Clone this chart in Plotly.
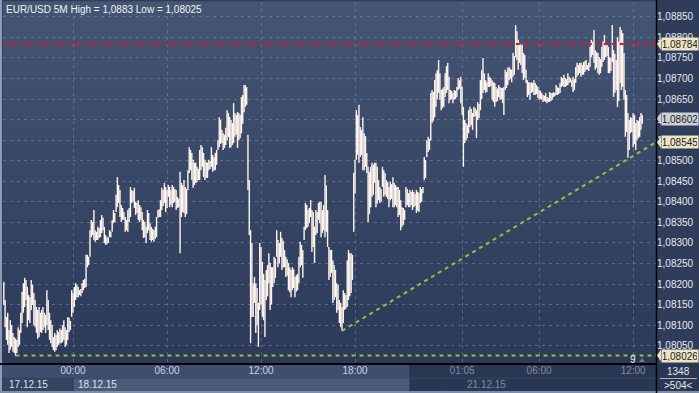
import plotly.graph_objects as go

# ---------------- data ----------------
HIGH = [
    1.08205, 1.08161, 1.08120, 1.08130, 1.08088, 1.08112, 1.08100, 1.08081, 1.08071, 1.08067,
    1.08064, 1.08095, 1.08088, 1.08130, 1.08181, 1.08202, 1.08215, 1.08210, 1.08193, 1.08173,
    1.08168, 1.08210, 1.08198, 1.08178, 1.08161, 1.08144, 1.08137, 1.08144, 1.08130, 1.08137,
    1.08144, 1.08130, 1.08125, 1.08185, 1.08161, 1.08130, 1.08112, 1.08100, 1.08071, 1.08081,
    1.08076, 1.08088, 1.08083, 1.08092, 1.08088, 1.08100, 1.08112, 1.08095, 1.08088, 1.08120,
    1.08118, 1.08110, 1.08185, 1.08178, 1.08193, 1.08202, 1.08198, 1.08193, 1.08185, 1.08188,
    1.08202, 1.08210, 1.08212, 1.08271, 1.08271, 1.08266, 1.08331, 1.08356, 1.08351, 1.08380,
    1.08331, 1.08327, 1.08339, 1.08336, 1.08356, 1.08368, 1.08361, 1.08339, 1.08319, 1.08314,
    1.08314, 1.08331, 1.08327, 1.08356, 1.08380, 1.08373, 1.08417, 1.08460, 1.08441, 1.08429,
    1.08392, 1.08385, 1.08375, 1.08363, 1.08356, 1.08380, 1.08385, 1.08436, 1.08429, 1.08426,
    1.08434, 1.08400, 1.08397, 1.08404, 1.08392, 1.08387, 1.08375, 1.08356, 1.08351, 1.08339,
    1.08380, 1.08373, 1.08348, 1.08339, 1.08334, 1.08331, 1.08339, 1.08363, 1.08380, 1.08382,
    1.08404, 1.08434, 1.08429, 1.08446, 1.08436, 1.08429, 1.08441, 1.08436, 1.08429, 1.08441,
    1.08436, 1.08431, 1.08429, 1.08412, 1.08407, 1.08473, 1.08446, 1.08440, 1.08453, 1.08436,
    1.08431, 1.08477, 1.08533, 1.08526, 1.08519, 1.08502, 1.08495, 1.08495, 1.08485, 1.08480,
    1.08526, 1.08538, 1.08533, 1.08519, 1.08502, 1.08497, 1.08495, 1.08502, 1.08499, 1.08533,
    1.08514, 1.08509, 1.08519, 1.08526, 1.08550, 1.08606, 1.08599, 1.08575, 1.08567, 1.08563,
    1.08580, 1.08623, 1.08616, 1.08606, 1.08599, 1.08592, 1.08640, 1.08616, 1.08611, 1.08618,
    1.08616, 1.08611, 1.08655, 1.08660, 1.08684, 1.08684, 1.08679, 1.08563, 1.08453, 1.08331,
    1.08300, 1.08202, 1.08217, 1.08202, 1.08190, 1.08154, 1.08300, 1.08290, 1.08254, 1.08225,
    1.08210, 1.08234, 1.08246, 1.08275, 1.08251, 1.08241, 1.08241, 1.08266, 1.08262, 1.08331,
    1.08307, 1.08300, 1.08327, 1.08312, 1.08305, 1.08283, 1.08266, 1.08260, 1.08251, 1.08240,
    1.08234, 1.08241, 1.08236, 1.08217, 1.08222, 1.08225, 1.08266, 1.08303, 1.08295, 1.08283,
    1.08339, 1.08397, 1.08392, 1.08380, 1.08385, 1.08404, 1.08380, 1.08375, 1.08339, 1.08380,
    1.08375, 1.08397, 1.08400, 1.08400, 1.08380, 1.08392, 1.08465, 1.08440, 1.08380, 1.08290,
    1.08283, 1.08283, 1.08258, 1.08246, 1.08234, 1.08202, 1.08198, 1.08161, 1.08154, 1.08144,
    1.08185, 1.08178, 1.08173, 1.08258, 1.08283, 1.08275, 1.08275, 1.08271, 1.08470, 1.08502,
    1.08623, 1.08611, 1.08636, 1.08582, 1.08575, 1.08606, 1.08567, 1.08560, 1.08519, 1.08485,
    1.08473, 1.08485, 1.08495, 1.08490, 1.08495, 1.08495, 1.08485, 1.08453, 1.08436, 1.08431,
    1.08485, 1.08477, 1.08470, 1.08453, 1.08448, 1.08436, 1.08448, 1.08443, 1.08460, 1.08446,
    1.08441, 1.08436, 1.08436, 1.08429, 1.08404, 1.08387, 1.08385, 1.08380, 1.08436, 1.08431,
    1.08421, 1.08429, 1.08424, 1.08429, 1.08424, 1.08419, 1.08429, 1.08424, 1.08421, 1.08436,
    1.08431, 1.08436, 1.08509, 1.08502, 1.08550, 1.08558, 1.08553, 1.08665, 1.08672, 1.08667,
    1.08696, 1.08713, 1.08720, 1.08745, 1.08713, 1.08672, 1.08675, 1.08679, 1.08713, 1.08730,
    1.08738, 1.08704, 1.08672, 1.08670, 1.08665, 1.08672, 1.08670, 1.08679, 1.08701, 1.08696,
    1.08704, 1.08680, 1.08631, 1.08599, 1.08592, 1.08587, 1.08623, 1.08631, 1.08626, 1.08616,
    1.08631, 1.08628, 1.08623, 1.08643, 1.08638, 1.08696, 1.08720, 1.08750, 1.08713, 1.08696,
    1.08691, 1.08713, 1.08704, 1.08701, 1.08696, 1.08691, 1.08689, 1.08679, 1.08675, 1.08684,
    1.08679, 1.08677, 1.08677, 1.08679, 1.08721, 1.08716, 1.08726, 1.08728, 1.08723, 1.08721,
    1.08762, 1.08755, 1.08830, 1.08815, 1.08794, 1.08786, 1.08782, 1.08782, 1.08762, 1.08757,
    1.08721, 1.08696, 1.08691, 1.08689, 1.08691, 1.08689, 1.08696, 1.08689, 1.08684, 1.08679,
    1.08672, 1.08670, 1.08665, 1.08660, 1.08658, 1.08665, 1.08655, 1.08653, 1.08667, 1.08665,
    1.08665, 1.08667, 1.08665, 1.08684, 1.08679, 1.08677, 1.08689, 1.08704, 1.08701, 1.08709,
    1.08701, 1.08699, 1.08713, 1.08704, 1.08701, 1.08696, 1.08704, 1.08699, 1.08728, 1.08738,
    1.08733, 1.08738, 1.08738, 1.08733, 1.08740, 1.08742, 1.08745, 1.08733, 1.08738, 1.08777,
    1.08794, 1.08789, 1.08818, 1.08769, 1.08764, 1.08762, 1.08752, 1.08747, 1.08777, 1.08790,
    1.08806, 1.08786, 1.08782, 1.08777, 1.08752, 1.08750, 1.08830, 1.08769, 1.08760, 1.08745,
    1.08801, 1.08790, 1.08825, 1.08818, 1.08810, 1.08762, 1.08672, 1.08660, 1.08616, 1.08599,
    1.08606, 1.08604, 1.08616, 1.08611, 1.08592, 1.08599, 1.08597, 1.08606, 1.08616, 1.08611,
]
LOW = [
    1.08149, 1.08095, 1.08064, 1.08052, 1.08032, 1.08040, 1.08047, 1.08035, 1.08032, 1.08025,
    1.08032, 1.08047, 1.08052, 1.08081, 1.08105, 1.08130, 1.08144, 1.08161, 1.08095, 1.08112,
    1.08105, 1.08137, 1.08149, 1.08100, 1.08095, 1.08081, 1.08067, 1.08071, 1.08083, 1.08081,
    1.08088, 1.08095, 1.08081, 1.08100, 1.08088, 1.08064, 1.08056, 1.08047, 1.08039, 1.08035,
    1.08039, 1.08047, 1.08052, 1.08056, 1.08056, 1.08059, 1.08064, 1.08047, 1.08052, 1.08064,
    1.08083, 1.08088, 1.08120, 1.08130, 1.08144, 1.08161, 1.08168, 1.08168, 1.08173, 1.08170,
    1.08178, 1.08185, 1.08190, 1.08193, 1.08241, 1.08246, 1.08266, 1.08314, 1.08319, 1.08307,
    1.08303, 1.08307, 1.08307, 1.08312, 1.08314, 1.08324, 1.08331, 1.08300, 1.08295, 1.08297,
    1.08300, 1.08314, 1.08314, 1.08327, 1.08348, 1.08351, 1.08375, 1.08387, 1.08397, 1.08363,
    1.08351, 1.08356, 1.08356, 1.08327, 1.08331, 1.08327, 1.08351, 1.08363, 1.08397, 1.08400,
    1.08385, 1.08368, 1.08373, 1.08356, 1.08351, 1.08356, 1.08331, 1.08312, 1.08314, 1.08300,
    1.08324, 1.08331, 1.08307, 1.08303, 1.08307, 1.08303, 1.08310, 1.08314, 1.08361, 1.08363,
    1.08363, 1.08380, 1.08390, 1.08397, 1.08375, 1.08385, 1.08412, 1.08387, 1.08392, 1.08387,
    1.08397, 1.08400, 1.08380, 1.08385, 1.08387, 1.08275, 1.08363, 1.08375, 1.08373, 1.08363,
    1.08370, 1.08429, 1.08470, 1.08477, 1.08453, 1.08434, 1.08441, 1.08446, 1.08448, 1.08453,
    1.08453, 1.08477, 1.08485, 1.08460, 1.08453, 1.08458, 1.08458, 1.08477, 1.08480, 1.08485,
    1.08473, 1.08477, 1.08477, 1.08490, 1.08526, 1.08533, 1.08541, 1.08543, 1.08526, 1.08531,
    1.08538, 1.08550, 1.08558, 1.08531, 1.08533, 1.08538, 1.08543, 1.08558, 1.08563, 1.08531,
    1.08550, 1.08555, 1.08567, 1.08590, 1.08618, 1.08631, 1.08636, 1.08429, 1.08319, 1.08056,
    1.08120, 1.08120, 1.08154, 1.08081, 1.08100, 1.08047, 1.08137, 1.08150, 1.08120, 1.08112,
    1.08071, 1.08161, 1.08170, 1.08202, 1.08137, 1.08150, 1.08193, 1.08202, 1.08215, 1.08266,
    1.08241, 1.08250, 1.08266, 1.08234, 1.08240, 1.08241, 1.08217, 1.08220, 1.08185, 1.08180,
    1.08168, 1.08185, 1.08190, 1.08168, 1.08181, 1.08185, 1.08202, 1.08241, 1.08246, 1.08215,
    1.08307, 1.08331, 1.08336, 1.08339, 1.08348, 1.08363, 1.08278, 1.08290, 1.08251, 1.08319,
    1.08324, 1.08356, 1.08348, 1.08314, 1.08324, 1.08331, 1.08314, 1.08327, 1.08290, 1.08210,
    1.08217, 1.08227, 1.08154, 1.08161, 1.08168, 1.08130, 1.08137, 1.08105, 1.08095, 1.08086,
    1.08105, 1.08137, 1.08140, 1.08144, 1.08161, 1.08170, 1.08178, 1.08210, 1.08327, 1.08421,
    1.08502, 1.08514, 1.08495, 1.08509, 1.08514, 1.08477, 1.08477, 1.08485, 1.08470, 1.08351,
    1.08370, 1.08387, 1.08412, 1.08417, 1.08446, 1.08387, 1.08395, 1.08404, 1.08397, 1.08400,
    1.08436, 1.08412, 1.08417, 1.08412, 1.08407, 1.08387, 1.08404, 1.08407, 1.08387, 1.08387,
    1.08392, 1.08387, 1.08363, 1.08368, 1.08331, 1.08339, 1.08344, 1.08356, 1.08387, 1.08392,
    1.08387, 1.08387, 1.08392, 1.08380, 1.08387, 1.08390, 1.08373, 1.08378, 1.08375, 1.08397,
    1.08400, 1.08421, 1.08453, 1.08458, 1.08509, 1.08521, 1.08526, 1.08550, 1.08592, 1.08597,
    1.08606, 1.08631, 1.08650, 1.08665, 1.08648, 1.08623, 1.08628, 1.08631, 1.08655, 1.08665,
    1.08672, 1.08640, 1.08648, 1.08650, 1.08640, 1.08648, 1.08650, 1.08655, 1.08672, 1.08675,
    1.08640, 1.08611, 1.08485, 1.08543, 1.08550, 1.08555, 1.08567, 1.08582, 1.08587, 1.08575,
    1.08606, 1.08608, 1.08555, 1.08599, 1.08604, 1.08623, 1.08650, 1.08665, 1.08672, 1.08665,
    1.08667, 1.08679, 1.08679, 1.08682, 1.08648, 1.08643, 1.08631, 1.08643, 1.08645, 1.08655,
    1.08648, 1.08650, 1.08640, 1.08611, 1.08672, 1.08677, 1.08684, 1.08696, 1.08699, 1.08691,
    1.08704, 1.08709, 1.08752, 1.08745, 1.08721, 1.08738, 1.08733, 1.08713, 1.08696, 1.08701,
    1.08689, 1.08655, 1.08660, 1.08648, 1.08665, 1.08667, 1.08660, 1.08660, 1.08662, 1.08653,
    1.08648, 1.08650, 1.08648, 1.08643, 1.08645, 1.08643, 1.08640, 1.08643, 1.08643, 1.08645,
    1.08648, 1.08655, 1.08657, 1.08660, 1.08660, 1.08662, 1.08665, 1.08679, 1.08682, 1.08679,
    1.08679, 1.08682, 1.08684, 1.08689, 1.08691, 1.08679, 1.08667, 1.08672, 1.08689, 1.08704,
    1.08709, 1.08713, 1.08704, 1.08709, 1.08709, 1.08716, 1.08721, 1.08721, 1.08718, 1.08728,
    1.08752, 1.08757, 1.08738, 1.08721, 1.08726, 1.08713, 1.08709, 1.08713, 1.08728, 1.08740,
    1.08745, 1.08752, 1.08755, 1.08713, 1.08713, 1.08718, 1.08740, 1.08655, 1.08665, 1.08672,
    1.08631, 1.08645, 1.08689, 1.08672, 1.08680, 1.08648, 1.08558, 1.08570, 1.08507, 1.08526,
    1.08567, 1.08570, 1.08533, 1.08540, 1.08526, 1.08550, 1.08555, 1.08558, 1.08575, 1.08590,
]

TICK_BARS = [53, 125, 197, 269, 351, 410, 482]
TICK_LABELS = ["00:00", "06:00", "12:00", "18:00", "01:05", "06:00", "12:00"]
TICK_DIM = [False, False, False, False, True, True, True]
DAY_LABELS = ["17.12.15", "18.12.15", "21.12.15"]
DAY_LABEL_BARS = [0, 53, 351]
DAY_BOUNDARY_BARS = [53, 337.5]

RED_LEVEL = 1.08784
GREEN_LEVEL = 1.08026
GREEN_START_BAR = 9
LAST_PRICE = 1.08602
TREND_START_BAR = 259
TREND_START_PRICE = 1.08086
TREND_END_PRICE = 1.08545

TITLE = "EUR/USD 5M High = 1,0883 Low = 1,08025"
COUNTER_TOP = "1348"
COUNTER_BOTTOM = ">504<"
MARK_LABEL = "9"

# ---------------- layout geometry ----------------
W, H = 699, 393
ML, MR, MT, MB = 3, 43, 2, 30
PW, PH = W - ML - MR, H - MT - MB
X_RANGE = [-0.61, 499.5]
Y_RANGE = [1.080078, 1.088861]
FONT = "Liberation Sans, Arial, sans-serif"


def px(x):
    return (x - ML) / PW


def py(y):
    return (H - MB - y) / PH


def mix(c1, c2, t):
    return "rgb(%d,%d,%d)" % tuple(round(a + (b - a) * t) for a, b in zip(c1, c2))


fig = go.Figure()

# price bars (high-low ranges)
bx, by = [], []
for i, (h, l) in enumerate(zip(HIGH, LOW)):
    bx += [i, i, None]
    by += [l, h, None]
fig.add_trace(go.Scatter(x=bx, y=by, mode="lines", line=dict(color="#FFF5EE", width=1.4),
                         hoverinfo="skip", showlegend=False))

end_x = X_RANGE[1]
fig.add_trace(go.Scatter(x=[0, end_x], y=[RED_LEVEL, RED_LEVEL], mode="lines",
                         line=dict(color="#E3141B", width=2, dash="4px,4px"),
                         hoverinfo="skip", showlegend=False))
fig.add_trace(go.Scatter(x=[GREEN_START_BAR, end_x], y=[GREEN_LEVEL, GREEN_LEVEL], mode="lines",
                         line=dict(color="#8CC63F", width=2, dash="4px,4px"),
                         hoverinfo="skip", showlegend=False))
fig.add_trace(go.Scatter(x=[TREND_START_BAR, end_x], y=[TREND_START_PRICE, TREND_END_PRICE],
                         mode="lines", line=dict(color="#8CC63F", width=2, dash="4px,4px"),
                         hoverinfo="skip", showlegend=False))

shapes = []
# gradient plot background
N = 40
top_c, bot_c = (69, 85, 116), (44, 57, 88)
for k in range(N):
    shapes.append(dict(type="rect", xref="paper", yref="paper", x0=0, x1=1,
                       y0=1 - (k + 1) / N, y1=1 - k / N + 0.002, layer="below",
                       line=dict(width=0), fillcolor=mix(top_c, bot_c, (k + 0.5) / N)))


def rect(x0, y0, x1, y1, color):
    shapes.append(dict(type="rect", xref="paper", yref="paper", x0=px(x0), x1=px(x1),
                       y0=py(y1), y1=py(y0), line=dict(width=0), fillcolor=color, layer="below"))


def line(x0, y0, x1, y1, color, w=1):
    shapes.append(dict(type="line", xref="paper", yref="paper", x0=px(x0), x1=px(x1),
                       y0=py(y0), y1=py(y1), line=dict(color=color, width=w)))


# bottom time / date bands
rect(0, 364, 410, 378, "#3E4E6C")
rect(0, 378, 73, 391, "#34435F")
rect(73, 378, 410, 391, "#4A5A77")
rect(410, 364, 656, 391, "#2A3753")
rect(656, 364, 699, 393, "#2A3753")
# separators
line(410, 364, 410, 391, "#25324C", 1)
for b in DAY_BOUNDARY_BARS:
    xx = ML + (b - X_RANGE[0]) / (X_RANGE[1] - X_RANGE[0]) * PW
    line(xx, 378, xx, 391, "#2E3C58", 1)
line(0, 378, 656, 378, "#36455F", 1)
# frame
line(1, 0, 1, 393, "#8D9DB6", 2)
line(0, 392, 699, 392, "#7F8FA8", 2)
line(656.5, 0, 656.5, 393, "#000000", 1.5)
line(0, 364, 656, 364, "#000000", 2)
# counter separator
line(660, 378.5, 697, 378.5, "#A8B2C4", 1)

# price tags with arrow
annotations = []
dy = (Y_RANGE[1] - Y_RANGE[0]) / PH * 6
for price, bg in [(RED_LEVEL, "#ECE4C4"), (LAST_PRICE, "#CDD1D7"),
                  (TREND_END_PRICE, "#ECE4C4"), (GREEN_LEVEL, "#ECE4C4")]:
    shapes.append(dict(type="path", xref="paper", yref="y",
                       path="M %f,%f L %f,%f L %f,%f Z" % (px(657), price, px(661), price + dy,
                                                          px(661), price - dy),
                       fillcolor=bg, line=dict(width=0)))
    annotations.append(dict(xref="paper", yref="y", x=px(660.5), y=price, xanchor="left",
                            yanchor="middle", text=("%.5f" % price).replace(".", ","),
                            showarrow=False, bgcolor=bg, borderpad=1, width=34, height=10,
                            font=dict(family=FONT, size=10, color="#1C1C1C")))

# title
annotations.append(dict(xref="paper", yref="paper", x=px(4), y=py(2), xanchor="left",
                        yanchor="top", text=TITLE, showarrow=False,
                        font=dict(family=FONT, size=10, color="#F2F4F8")))
# dates
for lbl, b in zip(DAY_LABELS, DAY_LABEL_BARS):
    annotations.append(dict(xref="x", yref="paper", x=b, y=py(384.5), xanchor="left",
                            yanchor="middle", xshift=3, text=lbl, showarrow=False,
                            font=dict(family=FONT, size=10,
                                      color="#7F8CA5" if b >= 338 else "#DCE3EE")))
# counters
annotations.append(dict(xref="paper", yref="paper", x=px(678), y=py(371.5), text=COUNTER_TOP,
                        showarrow=False, xanchor="center", yanchor="middle",
                        font=dict(family=FONT, size=10, color="#E6EAF0")))
annotations.append(dict(xref="paper", yref="paper", x=px(678), y=py(385.5), text=COUNTER_BOTTOM,
                        showarrow=False, xanchor="center", yanchor="middle",
                        font=dict(family=FONT, size=10, color="#E6EAF0")))
# small level marker
annotations.append(dict(xref="paper", yref="paper", x=px(633), y=py(359), text=MARK_LABEL,
                        showarrow=False, xanchor="center", yanchor="middle",
                        font=dict(family=FONT, size=10, color="#E6EAF0")))
shapes.append(dict(type="path", xref="paper", yref="paper",
                   path="M %f,%f L %f,%f L %f,%f Z" % (px(639), py(362), px(645), py(362),
                                                      px(642), py(358)),
                   fillcolor="#6F7B90", line=dict(width=0)))

tick_text = ["<span style='color:#7F8CA5'>%s</span>" % t if d else t
             for t, d in zip(TICK_LABELS, TICK_DIM)]

fig.update_layout(
    width=W, height=H,
    margin=dict(l=ML, r=MR, t=MT, b=MB, pad=0),
    paper_bgcolor="#2F3C5A",
    plot_bgcolor="rgba(0,0,0,0)",
    separators=", ",
    showlegend=False,
    shapes=shapes,
    annotations=annotations,
    xaxis=dict(range=X_RANGE, tickmode="array", tickvals=TICK_BARS, ticktext=tick_text,
               showgrid=True, gridcolor="rgba(125,140,170,0.55)", griddash="3px,4px",
               gridwidth=1, zeroline=False, showline=False, ticks="",
               tickfont=dict(family=FONT, size=10, color="#C6D3E8"), fixedrange=True),
    yaxis=dict(range=Y_RANGE, side="right", tick0=1.08, dtick=0.0005, tickformat=".5f",
               showgrid=True, gridcolor="rgba(125,140,170,0.55)", griddash="3px,4px",
               gridwidth=1, zeroline=False, showline=False, ticks="",
               tickfont=dict(family=FONT, size=10, color="#E6EAF0"), fixedrange=True),
)

fig.write_html("out.html", config={"displayModeBar": False},
               post_script="document.body.style.margin='0';document.body.style.padding='0';"
                           "document.body.style.overflow='hidden';")
